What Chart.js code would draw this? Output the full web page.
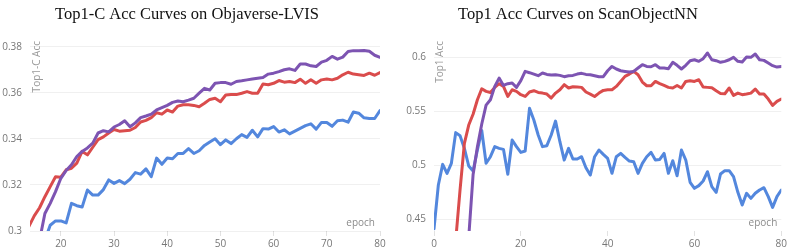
<!DOCTYPE html>
<html>
<head>
<meta charset="utf-8">
<script src="https://cdn.jsdelivr.net/npm/chart.js@4.4.1/dist/chart.umd.min.js"></script>
<style>
  body { margin: 0; background: #fff; }
  #wrap { position: relative; width: 789px; height: 249px; }
  #lvisChart { position: absolute; left: 0; top: 0; }
  #scanChart { position: absolute; left: 395px; top: 0; }
</style>
</head>
<body>
<div id="wrap">
  <canvas id="lvisChart" width="395" height="249"></canvas>
  <canvas id="scanChart" width="394" height="249"></canvas>
</div>
<script>
// Objaverse-LVIS, Top1-C Acc per epoch
const lvisEpochs = [14, 15, 16, 17, 18, 19, 20, 21, 22, 23, 24, 25, 26, 27, 28, 29, 30, 31, 32, 33,
  34, 35, 36, 37, 38, 39, 40, 41, 42, 43, 44, 45, 46, 47, 48, 49, 50, 51, 52, 53, 54, 55, 56, 57,
  58, 59, 60, 61, 62, 63, 64, 65, 66, 67, 68, 69, 70, 71, 72, 73, 74, 75, 76, 77, 78, 79, 80];
const lvisBlue = [null, null, null, 0.2960, 0.3025, 0.3044, 0.3044, 0.3035, 0.3120, 0.3110,
  0.3104, 0.3178, 0.3156, 0.3156, 0.3180, 0.3222, 0.3207, 0.3219, 0.3206, 0.3225,
  0.3254, 0.3247, 0.3270, 0.3236, 0.3317, 0.3290, 0.3317, 0.3314, 0.3337, 0.3337,
  0.3358, 0.3337, 0.3349, 0.3372, 0.3387, 0.3401, 0.3375, 0.3396, 0.3380, 0.3401,
  0.3419, 0.3407, 0.3438, 0.3409, 0.3445, 0.3443, 0.3454, 0.3430, 0.3440, 0.3422,
  0.3434, 0.3446, 0.3458, 0.3466, 0.3443, 0.3472, 0.3472, 0.3455, 0.3479, 0.3482,
  0.3473, 0.3517, 0.3512, 0.3492, 0.3489, 0.3489, 0.3523];
const lvisRed = [0.3020, 0.3066, 0.3101, 0.3149, 0.3193, 0.3236, 0.3234, 0.3266, 0.3273, 0.3295,
  0.3346, 0.3331, 0.3364, 0.3397, 0.3409, 0.3426, 0.3441, 0.3434, 0.3436, 0.3438,
  0.3450, 0.3474, 0.3481, 0.3493, 0.3514, 0.3508, 0.3526, 0.3517, 0.3543, 0.3549,
  0.3549, 0.3546, 0.3540, 0.3555, 0.3572, 0.3577, 0.3562, 0.3591, 0.3593, 0.3593,
  0.3599, 0.3606, 0.3599, 0.3599, 0.3639, 0.3636, 0.3642, 0.3654, 0.3647, 0.3650,
  0.3645, 0.3660, 0.3642, 0.3657, 0.3642, 0.3657, 0.3661, 0.3657, 0.3664, 0.3679,
  0.3690, 0.3682, 0.3679, 0.3676, 0.3686, 0.3677, 0.3689];
const lvisPurple = [null, null, 0.2960, 0.3076, 0.3120, 0.3171, 0.3229, 0.3263, 0.3288, 0.3324,
  0.3346, 0.3361, 0.3382, 0.3426, 0.3436, 0.3431, 0.3452, 0.3463, 0.3479, 0.3453,
  0.3470, 0.3493, 0.3500, 0.3508, 0.3526, 0.3536, 0.3546, 0.3559, 0.3565, 0.3562,
  0.3569, 0.3577, 0.3599, 0.3620, 0.3613, 0.3642, 0.3645, 0.3645, 0.3638, 0.3650,
  0.3653, 0.3657, 0.3661, 0.3664, 0.3667, 0.3682, 0.3686, 0.3693, 0.3701, 0.3705,
  0.3698, 0.3726, 0.3726, 0.3718, 0.3715, 0.3734, 0.3742, 0.3759, 0.3747, 0.3756,
  0.3780, 0.3784, 0.3784, 0.3785, 0.3781, 0.3764, 0.3755];

// ScanObjectNN, Top1 Acc per epoch
const scanEpochs = [0, 1, 2, 3, 4, 5, 6, 7, 8, 9, 10, 11, 12, 13, 14, 15, 16, 17, 18, 19, 20,
  21, 22, 23, 24, 25, 26, 27, 28, 29, 30, 31, 32, 33, 34, 35, 36, 37, 38, 39, 40,
  41, 42, 43, 44, 45, 46, 47, 48, 49, 50, 51, 52, 53, 54, 55, 56, 57, 58, 59, 60,
  61, 62, 63, 64, 65, 66, 67, 68, 69, 70, 71, 72, 73, 74, 75, 76, 77, 78, 79, 80];
const scanBlue = [0.4410, 0.4815, 0.5006, 0.4923, 0.5016, 0.5300, 0.5272, 0.5154, 0.4991, 0.4944,
  0.5140, 0.5320, 0.5016, 0.5077, 0.5170, 0.5154, 0.5145, 0.4914, 0.5232, 0.5170,
  0.5117, 0.5130, 0.5525, 0.5417, 0.5278, 0.5170, 0.5179, 0.5278, 0.5407, 0.5216,
  0.5046, 0.5154, 0.5056, 0.5056, 0.5077, 0.4975, 0.4907, 0.5077, 0.5139, 0.5099,
  0.5062, 0.4923, 0.5077, 0.5108, 0.5071, 0.5037, 0.5031, 0.4923, 0.5015, 0.5077,
  0.5117, 0.5046, 0.5052, 0.5108, 0.4923, 0.5040, 0.4901, 0.5139, 0.5046, 0.4840,
  0.4784, 0.4809, 0.4852, 0.4938, 0.4800, 0.4747, 0.4917, 0.4948, 0.4948, 0.4892,
  0.4747, 0.4630, 0.4738, 0.4691, 0.4738, 0.4769, 0.4790, 0.4707, 0.4608, 0.4707,
  0.4769];
const scanRed = [null, null, null, null, null, 0.4300, 0.4770, 0.5200, 0.5370, 0.5470,
  0.5604, 0.5706, 0.5682, 0.5672, 0.5719, 0.5753, 0.5728, 0.5635, 0.5697, 0.5682,
  0.5651, 0.5635, 0.5676, 0.5688, 0.5672, 0.5666, 0.5657, 0.5620, 0.5666, 0.5697,
  0.5744, 0.5713, 0.5725, 0.5722, 0.5719, 0.5676, 0.5657, 0.5635, 0.5666, 0.5691,
  0.5697, 0.5697, 0.5728, 0.5774, 0.5821, 0.5842, 0.5867, 0.5836, 0.5768, 0.5734,
  0.5734, 0.5774, 0.5753, 0.5737, 0.5719, 0.5713, 0.5737, 0.5713, 0.5774, 0.5781,
  0.5774, 0.5790, 0.5722, 0.5719, 0.5716, 0.5688, 0.5663, 0.5660, 0.5713, 0.5645,
  0.5666, 0.5651, 0.5657, 0.5666, 0.5703, 0.5657, 0.5657, 0.5611, 0.5552, 0.5589,
  0.5611];
const scanPurple = [null, null, null, null, null, null, null, null, 0.4330, 0.4909,
  0.5170, 0.5380, 0.5555, 0.5604, 0.5728, 0.5805, 0.5737, 0.5753, 0.5759, 0.5719,
  0.5781, 0.5867, 0.5855, 0.5842, 0.5827, 0.5852, 0.5839, 0.5833, 0.5836, 0.5830,
  0.5818, 0.5827, 0.5830, 0.5842, 0.5849, 0.5839, 0.5836, 0.5827, 0.5818, 0.5818,
  0.5873, 0.5913, 0.5889, 0.5873, 0.5867, 0.5861, 0.5867, 0.5898, 0.5929, 0.5913,
  0.5910, 0.5929, 0.5898, 0.5898, 0.5892, 0.5951, 0.5923, 0.5889, 0.5923, 0.5966,
  0.5975, 0.5960, 0.5985, 0.6037, 0.5975, 0.5966, 0.5951, 0.5960, 0.5975, 0.5997,
  0.5960, 0.5954, 0.6000, 0.5997, 0.6028, 0.5975, 0.5969, 0.5944, 0.5920, 0.5907,
  0.5913];

const BLUE = 'rgb(83, 135, 221)';
const RED = 'rgb(218, 76, 76)';
const PURPLE = 'rgb(125, 84, 178)';
const TICK_FONT = { family: '"Open Sans", "Noto Sans", sans-serif', size: 10 };

function points(xs, ys) {
  return xs.map((x, i) => ({ x: x, y: ys[i] }));
}

function series(color, xs, ys) {
  return {
    data: points(xs, ys),
    borderColor: color,
    backgroundColor: color,
    borderWidth: 3,
    pointRadius: 0,
    tension: 0,
    borderJoinStyle: 'round',
    borderCapStyle: 'round'
  };
}

// titles, y label at the top of the axis, "epoch" inside the plot
const overlayText = {
  id: 'overlayText',
  afterDraw(chart, args, opts) {
    const ctx = chart.ctx;
    const area = chart.chartArea;
    ctx.save();
    ctx.fillStyle = '#111';
    ctx.font = '16.5px "Liberation Serif", "Times New Roman", serif';
    ctx.textAlign = 'center';
    ctx.textBaseline = 'alphabetic';
    ctx.fillText(opts.title, opts.titleX, 19);

    ctx.font = '10px "Open Sans", "Noto Sans", sans-serif';
    ctx.fillStyle = '#8a8a8a';
    ctx.textAlign = 'right';
    ctx.fillText('epoch', area.right - opts.epochInset, area.bottom - 5);

    ctx.fillStyle = '#9a9a9a';
    ctx.translate(area.left + opts.yLabelInset, 41);
    ctx.rotate(-Math.PI / 2);
    ctx.textAlign = 'right';
    ctx.textBaseline = 'middle';
    ctx.fillText(opts.yLabel, 0, 0);
    ctx.restore();
  }
};

function options(xMin, xMax, xStep, yMin, yMax, yStep, yWidth, padRight, text) {
  return {
    responsive: false,
    animation: false,
    layout: { padding: { top: 35, right: padRight, bottom: 0, left: 0 } },
    plugins: {
      legend: { display: false },
      tooltip: { enabled: false },
      overlayText: text
    },
    scales: {
      x: {
        type: 'linear',
        min: xMin,
        max: xMax,
        afterFit(scale) { scale.height = 18; },
        ticks: { stepSize: xStep, includeBounds: false, padding: 2, color: '#777', font: TICK_FONT, maxRotation: 0 },
        grid: { drawOnChartArea: false, drawTicks: true, tickLength: 5, color: '#e2e2e2' },
        border: { display: false }
      },
      y: {
        min: yMin,
        max: yMax,
        afterFit(scale) { scale.width = yWidth; },
        ticks: {
          stepSize: yStep,
          includeBounds: false,
          padding: 8,
          color: '#777',
          font: TICK_FONT,
          callback: v => String(+v.toFixed(4))
        },
        grid: { drawTicks: false, color: 'rgba(0, 0, 0, 0.06)' },
        border: { display: false }
      }
    }
  };
}

document.addEventListener('DOMContentLoaded', function() {
  // Top1-C Acc Curves on Objaverse-LVIS
  new Chart(document.getElementById('lvisChart'), {
    type: 'line',
    data: {
      datasets: [
        series(PURPLE, lvisEpochs, lvisPurple),
        series(RED, lvisEpochs, lvisRed),
        series(BLUE, lvisEpochs, lvisBlue)
      ]
    },
    options: options(14.2, 80, 10, 0.3, 0.3852, 0.02, 30, 15, {
      title: 'Top1-C Acc Curves on Objaverse-LVIS', titleX: 187,
      yLabel: 'Top1-C Acc', yLabelInset: 7, epochInset: 5
    }),
    plugins: [overlayText]
  });

  // Top1 Acc Curves on ScanObjectNN
  new Chart(document.getElementById('scanChart'), {
    type: 'line',
    data: {
      datasets: [
        series(PURPLE, scanEpochs, scanPurple),
        series(RED, scanEpochs, scanRed),
        series(BLUE, scanEpochs, scanBlue)
      ]
    },
    options: options(0, 80, 20, 0.4389, 0.6204, 0.05, 39, 7, {
      title: 'Top1 Acc Curves on ScanObjectNN', titleX: 183,
      yLabel: 'Top1 Acc', yLabelInset: 6, epochInset: 4
    }),
    plugins: [overlayText]
  });
});
</script>
</body>
</html>
